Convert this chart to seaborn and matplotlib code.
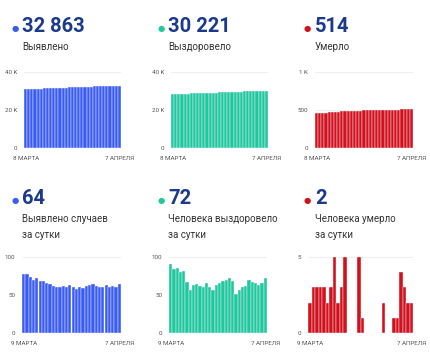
import matplotlib
matplotlib.use("Agg")
import matplotlib.pyplot as plt
import seaborn as sns
import numpy as np

sns.set_style("white")
plt.rcParams['font.family'] = ['Roboto', 'DejaVu Sans']

# ---- data ----
cases_total = [30936, 31014, 31091, 31165, 31235, 31307, 31376, 31444, 31510, 31574, 31636,
               31697, 31758, 31820, 31881, 31944, 32004, 32062, 32122, 32181, 32243,
               32306, 32370, 32432, 32493, 32553, 32616, 32677, 32739, 32799, 32863]
recovered_total = [28201, 28292, 28376, 28461, 28541, 28623, 28690, 28747, 28810, 28874, 28936,
                   28996, 29062, 29122, 29179, 29242, 29308, 29376, 29446, 29518, 29587,
                   29638, 29695, 29755, 29817, 29887, 29954, 30020, 30083, 30149, 30221]
deaths_total = [459, 461, 464, 467, 470, 473, 475, 478, 483, 485, 488,
                493, 493, 493, 493, 498, 499, 499, 499, 499, 499,
                499, 501, 501, 501, 502, 503, 507, 510, 512, 514]
cases_daily = [78, 77, 74, 70, 72, 69, 68, 66, 64, 62, 61, 61, 62, 61, 63,
               60, 58, 60, 59, 62, 63, 64, 62, 61, 60, 63, 61, 62, 60, 64]
recovered_daily = [91, 84, 85, 80, 82, 67, 57, 63, 64, 62, 60, 66, 60, 57, 63,
                   66, 68, 70, 72, 69, 51, 57, 60, 62, 70, 67, 66, 63, 66, 72]
deaths_daily = [2, 3, 3, 3, 3, 2, 3, 5, 2, 3, 5, 0, 0, 0, 5,
                1, 0, 0, 0, 0, 0, 2, 0, 0, 1, 1, 4, 3, 2, 2]

big_numbers = ["32 863", "30 221", "514", "64", "72", "2"]
labels = ["Выявлено", "Выздоровело", "Умерло",
          "Выявлено случаев\nза сутки", "Человека выздоровело\nза сутки", "Человека умерло\nза сутки"]
start_labels = ["8 МАРТА", "8 МАРТА", "8 МАРТА", "9 МАРТА", "9 МАРТА", "9 МАРТА"]
end_label = "7 АПРЕЛЯ"
yticks = [[0, 20000, 40000], [0, 20000, 40000], [0, 500, 1000], [0, 50, 100], [0, 50, 100], [0, 5]]
yticklabels = [["0", "20 K", "40 K"], ["0", "20 K", "40 K"], ["0", "500", "1 K"],
               ["0", "50", "100"], ["0", "50", "100"], ["0", "5"]]

series = [cases_total, recovered_total, deaths_total, cases_daily, recovered_daily, deaths_daily]
blue, teal, red = "#3a5cf5", "#1fc9a0", "#d2111e"
colors = [blue, teal, red, blue, teal, red]

W, H = 430, 357
fig = plt.figure(figsize=(W / 100, H / 100), dpi=100)

# axes boxes in pixels (left, right, top, bottom)
boxes = [(24, 121, 72, 148), (171, 268, 72, 148), (315, 413, 72, 148),
         (22, 121, 257, 333), (169, 267, 257, 333), (308, 413, 257, 333)]
text_x = [22, 168, 315, 22, 168, 315]
dot_x = [15, 161, 307, 15, 161, 307]

navy = "#1b3a8c"
for i in range(6):
    l, r, t, b = boxes[i]
    ax = fig.add_axes([l / W, 1 - b / H, (r - l) / W, (b - t) / H])
    vals = series[i]
    sns.barplot(x=list(range(len(vals))), y=vals, ax=ax, color=colors[i],
                saturation=1, width=1.0, linewidth=0.3, edgecolor="#f4f4f4")
    ax.set_ylim(0, yticks[i][-1])
    ax.set_xlim(-0.5, len(vals) - 0.5)
    ax.set_yticks(yticks[i])
    ax.set_yticklabels(yticklabels[i])
    ax.set_xticks([0, len(vals) - 1])
    ax.set_xticklabels([start_labels[i], end_label])
    ax.tick_params(axis='y', length=0, labelsize=4.5, labelcolor="#555555", pad=5)
    ax.tick_params(axis='x', length=0, labelsize=4.5, labelcolor="#555555", pad=6)
    ax.set_xlabel("")
    ax.set_ylabel("")
    for s in ax.spines.values():
        s.set_visible(False)
    ax.yaxis.grid(True, color="#ebebeb", linewidth=0.6)
    ax.set_axisbelow(True)

    row_top = 0 if i < 3 else 172
    num_y = row_top + 27
    fig.text(dot_x[i] / W, 1 - (num_y + 2) / H, "●", color=colors[i], fontsize=6,
             ha="center", va="center")
    fig.text(text_x[i] / W, 1 - num_y / H, big_numbers[i], color=navy, fontsize=14.5,
             fontweight="bold", ha="left", va="center")
    fig.text(text_x[i] / W, 1 - (row_top + 42) / H, labels[i], color="#333333", fontsize=7,
             ha="left", va="top", linespacing=1.7)

fig.savefig("out.png", dpi=100, facecolor="white")
